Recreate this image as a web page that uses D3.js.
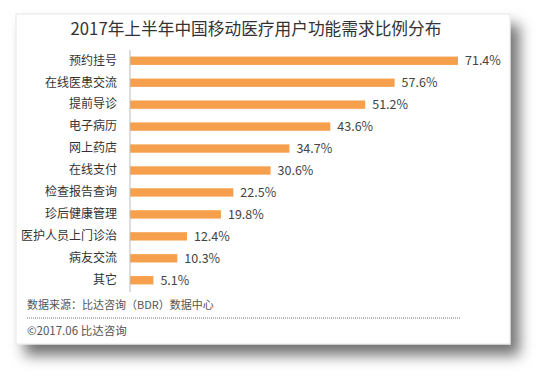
<!DOCTYPE html>
<html>
<head>
<meta charset="utf-8">
<script src="https://cdn.jsdelivr.net/npm/d3@7"></script>
<style>
  body { margin: 0; background: #fff; }
  text { font-family: "Noto Sans CJK SC", "Noto Sans", sans-serif; }
</style>
</head>
<body>
<svg id="chart"></svg>
<script>
const categories = ['预约挂号', '在线医患交流', '提前导诊', '电子病历', '网上药店', '在线支付',
  '检查报告查询', '珍后健康管理', '医护人员上门诊治', '病友交流', '其它'];
const values = [71.4, 57.6, 51.2, 43.6, 34.7, 30.6, 22.5, 19.8, 12.4, 10.3, 5.1];
const title = '2017年上半年中国移动医疗用户功能需求比例分布';
const source = '数据来源：比达咨询（BDR）数据中心';
const copyright = '©2017.06  比达咨询';

const W = 548, H = 386;
const svg = d3.select('#chart').attr('width', W).attr('height', H);

const defs = svg.append('defs');
const f = defs.append('filter').attr('id', 'shadow')
  .attr('x', '-10%').attr('y', '-10%').attr('width', '130%').attr('height', '140%');
f.append('feDropShadow').attr('dx', 9).attr('dy', 11).attr('stdDeviation', 7)
  .attr('flood-color', '#000').attr('flood-opacity', 0.55);

// card
svg.append('rect')
  .attr('x', 16).attr('y', 14).attr('width', 494).attr('height', 330)
  .attr('fill', '#fff').attr('stroke', '#e6e6e6').attr('stroke-width', 1)
  .attr('filter', 'url(#shadow)');

svg.append('text')
  .attr('x', 256).attr('y', 35)
  .attr('text-anchor', 'middle')
  .attr('font-size', 16.7).attr('fill', '#333')
  .text(title);

const margin = { left: 130, top: 50 };
const x = d3.scaleLinear().domain([0, 71.4]).range([margin.left, 458]);
const y = d3.scaleBand().domain(categories).range([50, 291]).paddingInner(0.62).paddingOuter(0.3);

const g = svg.append('g');

g.selectAll('rect.bar')
  .data(values)
  .enter()
  .append('rect')
  .attr('class', 'bar')
  .attr('x', x(0))
  .attr('y', (d, i) => y(categories[i]))
  .attr('width', d => x(d) - x(0))
  .attr('height', y.bandwidth())
  .attr('fill', '#F6A04D');

g.selectAll('text.val')
  .data(values)
  .enter()
  .append('text')
  .attr('class', 'val')
  .attr('x', d => x(d) + 7)
  .attr('y', (d, i) => y(categories[i]) + y.bandwidth() / 2)
  .attr('dy', '0.35em')
  .attr('font-size', 12.5).attr('fill', '#444')
  .text(d => d.toFixed(1) + '%');

const yAxis = d3.axisLeft(y).tickSize(0).tickPadding(13);
const ax = svg.append('g').attr('transform', `translate(${x(0)},0)`).call(yAxis);
ax.select('.domain').attr('stroke', '#bbb').attr('d', 'M0,50V292');
ax.selectAll('text').attr('font-size', 12).attr('fill', '#333')
  .style('font-family', '"Noto Sans CJK SC", sans-serif');

svg.append('text')
  .attr('x', 27).attr('y', 309)
  .attr('font-size', 11).attr('fill', '#555')
  .text(source);

svg.append('line')
  .attr('x1', 27).attr('x2', 460).attr('y1', 318).attr('y2', 318)
  .attr('stroke', '#777').attr('stroke-width', 1).attr('stroke-dasharray', '1,1');

svg.append('text')
  .attr('x', 27).attr('y', 335)
  .attr('font-size', 11.5).attr('fill', '#555')
  .text(copyright);
</script>
</body>
</html>
